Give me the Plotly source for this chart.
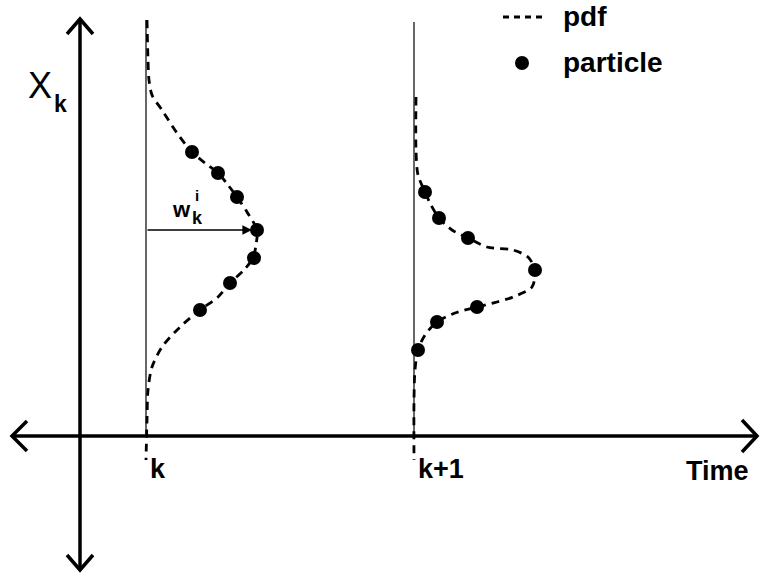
import plotly.graph_objects as go

# ---------------- data ----------------
# time instants shown on the time axis
TIMES = [1.0, 2.0]
TIME_LABELS = ["k", "k+1"]

# pdf at time k : state value and density value
pdf_k_state = [4.16, 3.76, 3.56, 3.41, 3.26, 3.03, 2.84, 2.73, 2.63, 2.51, 2.39, 2.24, 2.06,
               1.91, 1.78, 1.66, 1.53, 1.39, 1.26, 1.09, 0.89, 0.69, 0.46, 0.16, -0.24]
pdf_k_density = [0.01, 0.02, 0.03, 0.06, 0.16, 0.31, 0.46, 0.59, 0.72, 0.82, 0.91, 1.01, 1.11,
                 1.10, 1.07, 0.98, 0.84, 0.72, 0.54, 0.34, 0.16, 0.06, 0.02, 0.01, 0.00]
# particles at time k
part_k_state = [2.84, 2.63, 2.39, 2.06, 1.78, 1.53, 1.26]
part_k_density = [0.46, 0.72, 0.91, 1.11, 1.08, 0.84, 0.54]

# pdf at time k+1
pdf_k1_state = [3.39, 2.86, 2.61, 2.44, 2.31, 2.18, 2.06, 1.98, 1.89, 1.86, 1.79, 1.66,
                1.49, 1.39, 1.34, 1.29, 1.23, 1.14, 1.01, 0.86, 0.66, 0.36, -0.24]
pdf_k1_density = [0.02, 0.02, 0.04, 0.11, 0.17, 0.25, 0.38, 0.54, 0.73, 0.99, 1.14, 1.21,
                  1.18, 0.99, 0.83, 0.63, 0.41, 0.23, 0.11, 0.04, 0.01, 0.00, 0.00]
# particles at time k+1
part_k1_state = [2.44, 2.18, 1.98, 1.66, 1.29, 1.14, 0.86]
part_k1_density = [0.11, 0.25, 0.54, 1.21, 0.63, 0.23, 0.04]

# top of the thin time-instant lines (state units)
instant_top = [4.16, 4.14]

# ---------------- layout helpers ----------------
W, H = 760, 573
PX_PER_T = 268.0      # pixels per time unit
PX_PER_S = 100.0      # pixels per state unit
T0_PX, S0_PY = 146.0, 436.0
PDF_SCALE = 100.0 / 268.0  # density -> time-axis offset


def tx(px):
    return 1.0 + (px - T0_PX) / PX_PER_T


def sy(py):
    return (S0_PY - py) / PX_PER_S


FONT = "Liberation Sans, Arial, Helvetica, sans-serif"
BLACK = "#000000"

fig = go.Figure()

# time instant lines
for t, top in zip(TIMES, instant_top):
    fig.add_trace(go.Scatter(x=[t, t], y=[top, 0], mode="lines",
                             line=dict(color=BLACK, width=1.2), hoverinfo="skip"))

# pdf curves and particles
for t, ps, pd, qs, qd in [(TIMES[0], pdf_k_state, pdf_k_density, part_k_state, part_k_density),
                          (TIMES[1], pdf_k1_state, pdf_k1_density, part_k1_state, part_k1_density)]:
    fig.add_trace(go.Scatter(x=[t + d * PDF_SCALE for d in pd], y=ps, mode="lines",
                             line=dict(color=BLACK, width=2.8, dash="8px,6px", shape="spline",
                                       smoothing=0.8),
                             name="pdf", hoverinfo="skip"))
    fig.add_trace(go.Scatter(x=[t + d * PDF_SCALE for d in qd], y=qs, mode="markers",
                             marker=dict(color=BLACK, size=14, symbol="circle"),
                             name="particle", hoverinfo="skip"))

# axes with chevron arrow heads
AX_X = tx(80)
axis_style = dict(color=BLACK, width=3.5)
fig.add_trace(go.Scatter(x=[tx(12), tx(757)], y=[0, 0], mode="lines", line=axis_style, hoverinfo="skip"))
fig.add_trace(go.Scatter(x=[AX_X, AX_X], y=[sy(19), sy(570)], mode="lines", line=axis_style, hoverinfo="skip"))
chevrons = [
    [(67, 34), (80, 19), (93, 34)],
    [(67, 555), (80, 570), (93, 555)],
    [(27, 421), (12, 436), (27, 451)],
    [(742, 420), (757, 436), (742, 452)],
]
for ch in chevrons:
    fig.add_trace(go.Scatter(x=[tx(p[0]) for p in ch], y=[sy(p[1]) for p in ch], mode="lines",
                             line=axis_style, hoverinfo="skip"))

# legend (drawn manually)
fig.add_trace(go.Scatter(x=[tx(503), tx(543)], y=[sy(17), sy(17)], mode="lines",
                         line=dict(color=BLACK, width=2.8, dash="6px,5px"), hoverinfo="skip"))
fig.add_trace(go.Scatter(x=[tx(522)], y=[sy(63)], mode="markers",
                         marker=dict(color=BLACK, size=14), hoverinfo="skip"))

ann = []


def text(px, py, s, size, bold=True, xanchor="center", yanchor="middle"):
    ann.append(dict(x=tx(px), y=sy(py), xref="x", yref="y", text=("<b>%s</b>" % s) if bold else s,
                    showarrow=False, xanchor=xanchor, yanchor=yanchor,
                    font=dict(family=FONT, size=size, color=BLACK)))


text(561, 16, "pdf", 28, xanchor="left")
text(561, 62, "particle", 28, xanchor="left")
text(158, 469, TIME_LABELS[0], 27)
text(441, 469, TIME_LABELS[1], 27)
text(717, 471, "Time", 27)
text(40, 85, "X", 36, bold=False)
text(60, 104, "k", 23)
text(181, 209, "w", 22)
text(197, 206, "k", 18, yanchor="top")
text(197, 206, "i", 15, yanchor="bottom")

# weight arrow at time k (from the time line to the largest particle)
peak = part_k_density.index(max(part_k_density))
ann.append(dict(x=TIMES[0] + part_k_density[peak] * PDF_SCALE, y=part_k_state[peak],
                ax=TIMES[0], ay=part_k_state[peak], xref="x", yref="y", axref="x", ayref="y",
                showarrow=True, arrowhead=2, arrowsize=1.2, arrowwidth=1.6, arrowcolor=BLACK,
                standoff=5, text=""))

fig.update_layout(
    width=W, height=H, margin=dict(l=0, r=0, t=0, b=0),
    paper_bgcolor="white", plot_bgcolor="white", showlegend=False,
    xaxis=dict(range=[tx(0), tx(W)], visible=False, fixedrange=True),
    yaxis=dict(range=[sy(H), sy(0)], visible=False, fixedrange=True),
    annotations=ann,
)

fig.write_html("out.html", config={"displayModeBar": False},
               post_script="document.body.style.margin='0';document.body.style.padding='0';")
